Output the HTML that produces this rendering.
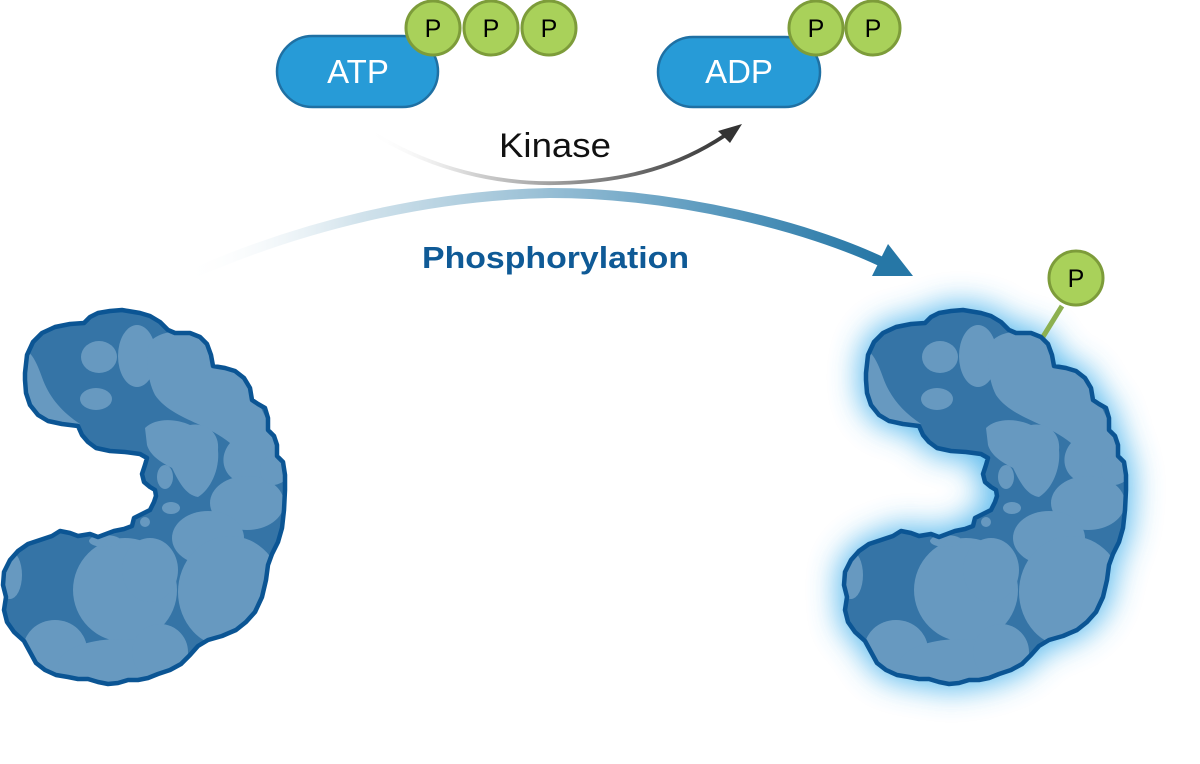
<!DOCTYPE html>
<html>
<head>
<meta charset="utf-8">
<style>
html,body{margin:0;padding:0;background:#fff;}
body{width:1200px;height:764px;overflow:hidden;}
svg{display:block;}
</style>
</head>
<body>
<svg width="1200" height="764" viewBox="0 0 1200 764" xmlns="http://www.w3.org/2000/svg">
<defs>
  <path id="prot" d="M25,373 L27,355 L33,342 L42,333 L55,327 L70,324 L84,323 L90,317 L98,313 L110,311 L122,310 L128,311 L140,313 L150,316 L160,322 L168,330 L175,333 L190,333 L200,337 L207,344 L211,355 L213,366 L225,368 L235,371 L244,378 L250,388 L252,400 L258,404 L265,408 L268,418 L268,430 L274,436 L277,445 L277,456 L283,462 L285,475 L285,490 L284,510 L282,528 L278,542 L272,554 L268,565 L266,580 L262,597 L255,612 L246,622 L236,630 L222,636 L208,640 L198,646 L190,655 L181,664 L170,670 L158,674 L148,678 L138,680 L128,680 L118,683 L108,684 L98,682 L88,679 L78,679 L68,677 L56,675 L45,670 L36,663 L30,652 L24,641 L14,632 L7,622 L4,610 L6,597 L3,585 L4,572 L10,560 L18,551 L28,544 L40,540 L52,536 L60,531 L70,533 L78,536 L90,534 L98,537 L106,534 L114,531 L124,529 L132,526 L134,518 L142,514 L150,510 L154,502 L156,496 L155,490 L150,487 L144,482 L142,474 L145,465 L147,458 L140,454 L125,452 L110,451 L96,448 L88,442 L82,435 L78,426 L62,424 L48,421 L38,415 L30,405 L26,393 L25,380 Z"/>
  <clipPath id="pclip"><use href="#prot"/></clipPath>
  <g id="protein">
    <use href="#prot" fill="#3574a6"/>
    <g clip-path="url(#pclip)" fill="#6799c0">
      <!-- top-left lobe crescent -->
      <path d="M20,350 C30,348 36,360 43,380 C50,398 62,412 80,424 L60,432 L25,418 Z"/>
      <ellipse cx="99" cy="357" rx="18" ry="16"/>
      <ellipse cx="96" cy="399" rx="16" ry="11"/>
      <ellipse cx="137" cy="356" rx="19" ry="31"/>
      <!-- big upper-right light region -->
      <path d="M150,342 C160,330 185,328 205,338 C215,350 212,366 225,368 C245,372 256,392 262,410 C272,430 285,460 285,480 C275,490 250,485 232,478 C222,470 220,455 230,443 C220,435 210,430 200,425 C185,418 165,410 155,395 C147,380 145,355 150,342 Z"/>
      <!-- arm blob -->
      <path d="M145,428 C155,418 175,418 190,425 C205,422 220,432 218,450 C220,470 210,490 198,497 C185,495 178,480 172,468 C160,462 150,455 147,445 Z"/>
      <ellipse cx="165" cy="477" rx="8" ry="12"/>
      <ellipse cx="171" cy="508" rx="9" ry="6"/>
      <ellipse cx="145" cy="522" rx="5" ry="5"/>
      <ellipse cx="247" cy="503" rx="37" ry="27"/>
      <ellipse cx="272" cy="470" rx="12" ry="14"/>
      <ellipse cx="208" cy="538" rx="36" ry="27"/>
      <ellipse cx="230" cy="592" rx="52" ry="56"/>
      <ellipse cx="125" cy="590" rx="52" ry="52"/>
      <ellipse cx="150" cy="570" rx="28" ry="32"/>
      <ellipse cx="55" cy="650" rx="32" ry="30"/>
      <ellipse cx="120" cy="665" rx="62" ry="26"/>
      <ellipse cx="160" cy="652" rx="28" ry="28"/>
      <ellipse cx="105" cy="541" rx="16" ry="6"/>
      <ellipse cx="10" cy="575" rx="12" ry="24"/>
    </g>
    <use href="#prot" fill="none" stroke="#0b5594" stroke-width="4.5" stroke-linejoin="round"/>
  </g>
  <filter id="glow" x="-40%" y="-40%" width="180%" height="180%">
    <feGaussianBlur stdDeviation="15"/>
  </filter>
  <linearGradient id="kgrad" gradientUnits="userSpaceOnUse" x1="368" y1="0" x2="730" y2="0">
    <stop offset="0" stop-color="#ffffff" stop-opacity="0"/>
    <stop offset="0.3" stop-color="#d0d0d0"/>
    <stop offset="0.6" stop-color="#8a8a8a"/>
    <stop offset="1" stop-color="#333333"/>
  </linearGradient>
  <linearGradient id="pgrad" gradientUnits="userSpaceOnUse" x1="183" y1="0" x2="880" y2="0">
    <stop offset="0" stop-color="#ffffff" stop-opacity="0"/>
    <stop offset="0.25" stop-color="#d2e3ec"/>
    <stop offset="0.5" stop-color="#9dc2d7"/>
    <stop offset="0.75" stop-color="#5d9bbf"/>
    <stop offset="1" stop-color="#2677a6"/>
  </linearGradient>
</defs>

<!-- Phosphorylation arrow -->
<path d="M183,278 C300,225 430,195 550,193 C680,193 810,228 880,261" fill="none" stroke="url(#pgrad)" stroke-width="10"/>
<polygon points="872,276 888,244 913,276" fill="#2677a6"/>

<!-- Kinase arrow -->
<path d="M368,130 C430,170 500,185 560,183 C630,181 680,165 724,136" fill="none" stroke="url(#kgrad)" stroke-width="3.8" stroke-linecap="round"/>
<polygon points="718,131 742,124 730,143" fill="#333333"/>

<text x="499" y="157" font-family="Liberation Sans, sans-serif" font-size="34" fill="#111" textLength="112" lengthAdjust="spacingAndGlyphs">Kinase</text>
<text x="422" y="268" font-family="Liberation Sans, sans-serif" font-size="31" font-weight="bold" fill="#0f5a96" textLength="267" lengthAdjust="spacingAndGlyphs">Phosphorylation</text>

<!-- ATP -->
<rect x="277" y="36" width="161" height="71" rx="35.5" fill="#279bd7" stroke="#1f70a3" stroke-width="2.5"/>
<text x="358" y="83" text-anchor="middle" font-family="Liberation Sans, sans-serif" font-size="33" fill="#fff">ATP</text>
<g stroke="#7d9c3a" stroke-width="3" fill="#a9d15a">
  <circle cx="433" cy="28" r="27"/>
  <circle cx="491" cy="28" r="27"/>
  <circle cx="549" cy="28" r="27"/>
</g>
<g font-family="Liberation Sans, sans-serif" font-size="25" fill="#000" text-anchor="middle">
  <text x="433" y="37">P</text>
  <text x="491" y="37">P</text>
  <text x="549" y="37">P</text>
</g>

<!-- ADP -->
<rect x="658" y="37" width="162" height="70" rx="35" fill="#279bd7" stroke="#1f70a3" stroke-width="2.5"/>
<text x="739" y="83" text-anchor="middle" font-family="Liberation Sans, sans-serif" font-size="33" fill="#fff">ADP</text>
<g stroke="#7d9c3a" stroke-width="3" fill="#a9d15a">
  <circle cx="816" cy="28" r="27"/>
  <circle cx="873" cy="28" r="27"/>
</g>
<g font-family="Liberation Sans, sans-serif" font-size="25" fill="#000" text-anchor="middle">
  <text x="816" y="37">P</text>
  <text x="873" y="37">P</text>
</g>

<!-- Left protein -->
<use href="#protein"/>

<!-- Right protein with glow -->
<g transform="translate(841,0)">
  <use href="#prot" fill="#4cb4ec" stroke="#4cb4ec" stroke-width="14" stroke-linejoin="round" filter="url(#glow)" opacity="0.9"/>
</g>
<line x1="1062" y1="306" x2="1041" y2="340" stroke="#8cb050" stroke-width="5"/>
<g transform="translate(841,0)">
  <use href="#protein"/>
</g>
<circle cx="1076" cy="278" r="27" fill="#a9d15a" stroke="#7d9c3a" stroke-width="3"/>
<text x="1076" y="287" text-anchor="middle" font-family="Liberation Sans, sans-serif" font-size="25" fill="#000">P</text>
</svg>
</body>
</html>
